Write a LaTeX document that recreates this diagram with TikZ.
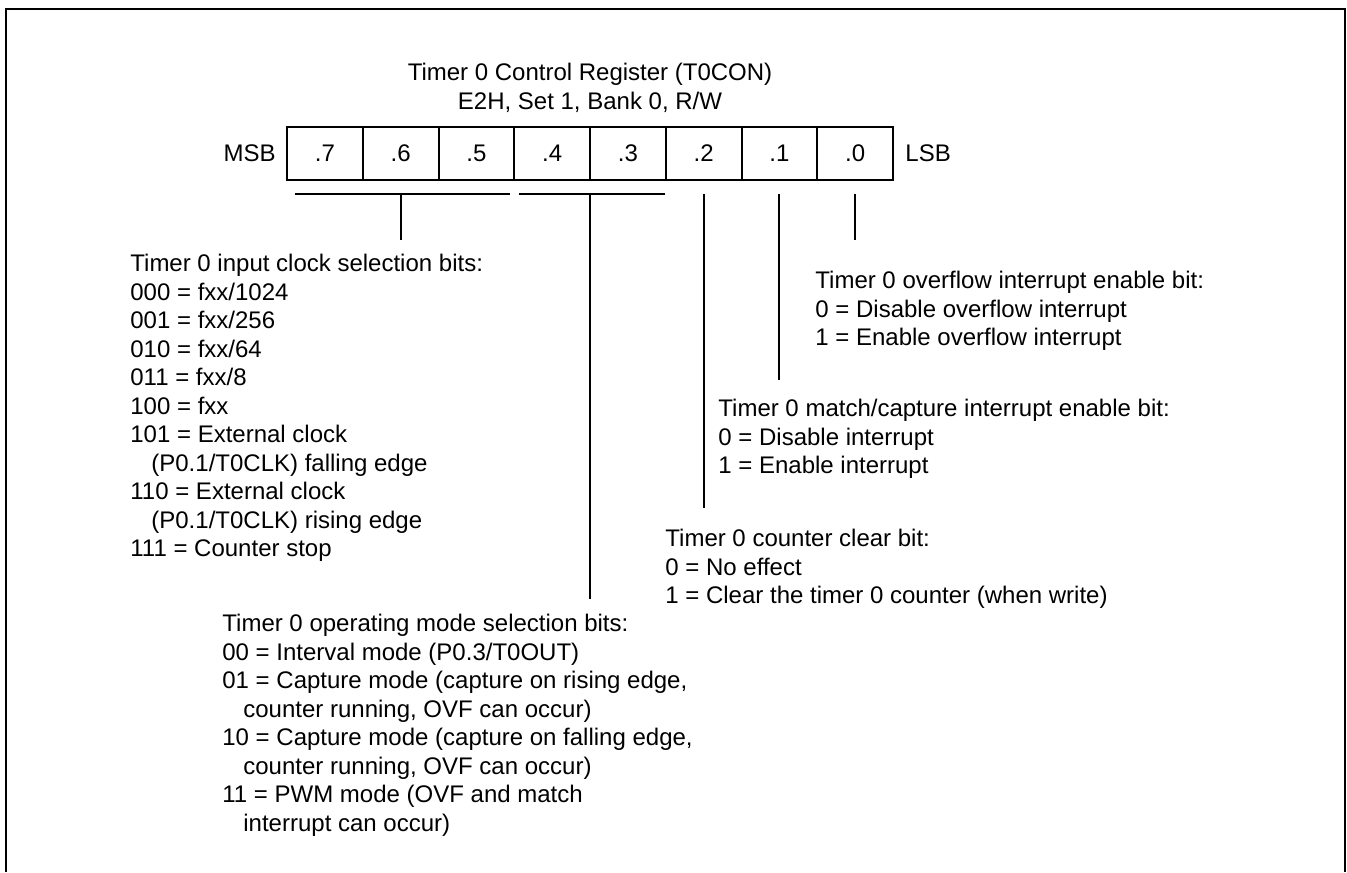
\documentclass[tikz,border=0pt]{standalone}
\usepackage{fontspec}
\setmainfont{Liberation Sans}
\usetikzlibrary{positioning,calc}

\begin{document}
\begin{tikzpicture}[x=0.5pt, y=-0.5pt,
		every node/.style={font=\fontsize{12}{14.25}\selectfont},
		bitcell/.style={draw, line width=1pt, minimum width=37.875pt, minimum height=26.5pt, inner sep=0pt, outer sep=0pt},
		lead/.style={line width=0.9pt},
		desc/.style={align=left, anchor=north west, inner sep=0pt}]
		\useasboundingbox (0,0) rectangle (1347,872);
		\draw[line width=1.3pt] (6,872) -- (6,9) -- (1345,9) -- (1345,872);
		
		\node[align=center, anchor=north, inner sep=0pt] (title) at (590,63) {Timer 0 Control Register (T0CON)\\E2H, Set 1, Bank 0, R/W};
		
		\foreach \i [count=\k from 0] in {7,...,0}
			\node[bitcell] (b\i) at (324.875+75.75*\k, 153.5) {.\i};
		\node[left=5.5pt of b7, inner sep=0pt] (msb) {MSB};
		\node[right=6pt of b0, inner sep=0pt] (lsb) {LSB};
		
		\draw[lead] ($(b7.south west)+(8,14)$) -- ($(b5.south east)+(-4,14)$);
		\draw[lead] ($(b4.south west)+(5,14)$) -- ($(b3.south east)+(-1,14)$);
		\draw[lead] ($(b6.south)+(0,14)$) -- ++(0,46);
		\draw[lead] ($(b4.south east)+(0,14)$) -- ++(0,405);
		\draw[lead] ($(b2.south)+(0,14)$) -- ++(0,314);
		\draw[lead] ($(b1.south)+(0,14)$) -- ++(0,186);
		\draw[lead] ($(b0.south)+(0,14)$) -- ++(0,46);
		
		\node[desc] (clk) at (130,254) {Timer 0 input clock selection bits:\\000 = fxx/1024\\001 = fxx/256\\010 = fxx/64\\011 = fxx/8\\100 = fxx\\101 = External clock\\\hspace*{10.5pt}(P0.1/T0CLK) falling edge\\110 = External clock\\\hspace*{10.5pt}(P0.1/T0CLK) rising edge\\111 = Counter stop};
		\node[desc] (mode) at (222,614) {Timer 0 operating mode selection bits:\\00 = Interval mode (P0.3/T0OUT)\\01 = Capture mode (capture on rising edge,\\\hspace*{10.5pt}counter running, OVF can occur)\\10 = Capture mode (capture on falling edge,\\\hspace*{10.5pt}counter running, OVF can occur)\\11 = PWM mode (OVF and match\\\hspace*{10.5pt}interrupt can occur)};
		\node[desc] (clr) at (665,529) {Timer 0 counter clear bit:\\0 = No effect\\1 = Clear the timer 0 counter (when write)};
		\node[desc] (match) at (718,399) {Timer 0 match/capture interrupt enable bit:\\0 = Disable interrupt\\1 = Enable interrupt};
		\node[desc] (ovf) at (815,271) {Timer 0 overflow interrupt enable bit:\\0 = Disable overflow interrupt\\1 = Enable overflow interrupt};
	\end{tikzpicture}
\end{document}
